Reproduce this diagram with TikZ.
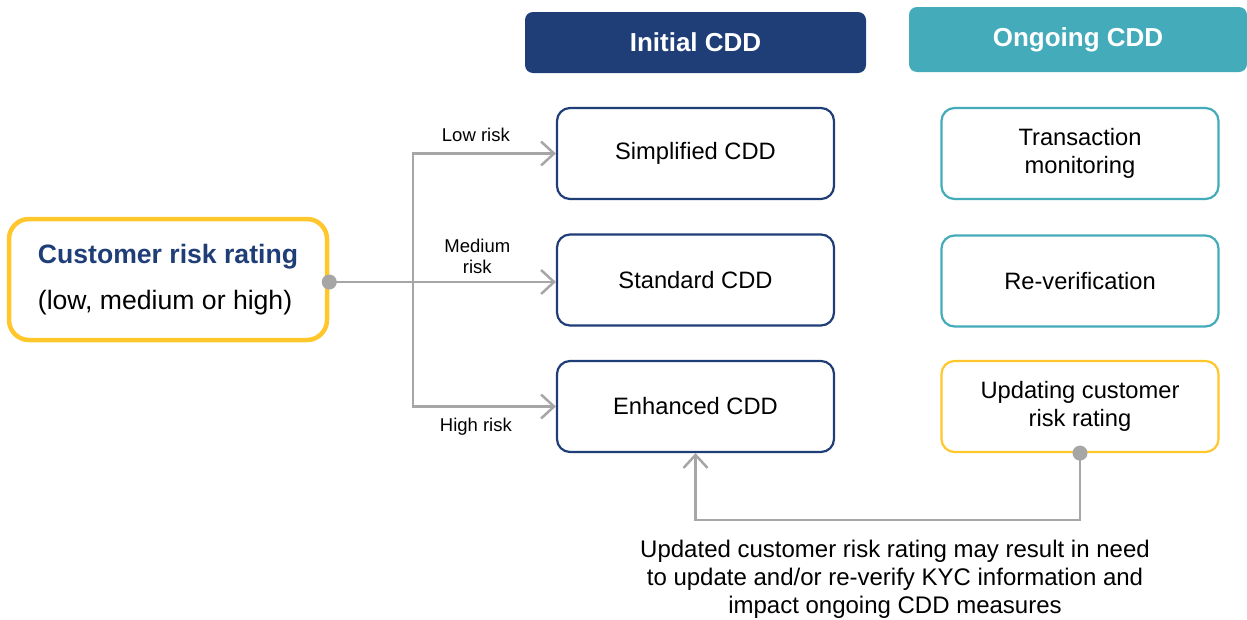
\documentclass[tikz,border=0pt]{standalone}
\usepackage{fontspec}
\setmainfont{Liberation Sans}
\usetikzlibrary{arrows.meta}

\definecolor{cddblue}{HTML}{1F3E78}
\definecolor{cddteal}{HTML}{43ABB9}
\definecolor{cddyellow}{HTML}{FFC72C}
\definecolor{cddgray}{HTML}{A6A6A6}

\begin{document}
\begin{tikzpicture}[x = 1pt, y = -1pt,
	box/.style = {rounded corners = 13pt, line width = 2.2pt, fill = white,
		minimum width = 277pt, minimum height = 91pt, align = center,
		font = \fontsize{23.7}{28}\selectfont},
	head/.style = {rounded corners = 8pt, text = white,
		font = \bfseries\fontsize{26}{30}\selectfont},
	link/.style = {cddgray, line width = 2.5pt},
	tip/.style = {-{Straight Barb[length = 13pt, width = 24pt]}},
	risklab/.style = {text = black, font = \fontsize{18.5}{21}\selectfont, align = center}]
	\useasboundingbox (0,0) rectangle (1247,619);
	% column heads
	\node[head, fill = cddblue, minimum width = 341pt, minimum height = 61pt] (inithead) at (695.5,42.5) {Initial CDD};
	\node[head, fill = cddteal, minimum width = 338pt, minimum height = 65pt] (onghead) at (1078,39.5) {Ongoing CDD};
	% initial CDD
	\node[box, draw = cddblue] (simp) at (695.5,153.5) {Simplified CDD};
	\node[box, draw = cddblue] (std) at (695.5,280) {Standard CDD};
	\node[box, draw = cddblue] (enh) at (695.5,406.5) {Enhanced CDD};
	% ongoing CDD
	\node[box, draw = cddteal] (trans) at (1080,153.5) {Transaction\\monitoring};
	\node[box, draw = cddteal] (rever) at (1080,281) {Re-verification};
	\node[box, draw = cddyellow] (upd) at (1080,406.5) {Updating customer\\risk rating};
	% risk rating
	\node[draw = cddyellow, line width = 4.5pt, rounded corners = 20pt, fill = white,
		minimum width = 318pt, minimum height = 121pt, align = left,
		font = \fontsize{26.6}{46}\selectfont] (crr) at (168,279.5)
		{\textcolor{cddblue}{\bfseries Customer risk rating}\\(low, medium or high)};
	\coordinate (split) at (413,282);
	\draw[link] (crr.east |- split) -- (split);
	\draw[link, tip] (split) |- node[risklab, pos = 0.72, above = 7pt](lowlab){Low risk} (simp.west);
	\draw[link, tip] (split) -- node[risklab, pos = 0.45, above = 4pt](medlab){Medium\\risk} (std.west |- split);
	\draw[link, tip] (split) |- node[risklab, pos = 0.72, below = 7pt](highlab){High risk} (enh.west);
	\fill[cddgray] (crr.east |- split) circle (7.5pt);
	% feedback
	\draw[link, tip] (upd.south) -- ++(0,67) -| (enh.south);
	\fill[cddgray] (upd.south) circle (7.5pt);
	\node[align = center, font = \fontsize{24}{28}\selectfont] (note) at (895,579)
		{Updated customer risk rating may result in need\\to update and/or re-verify KYC information and\\impact ongoing CDD measures};
\end{tikzpicture}
\end{document}
